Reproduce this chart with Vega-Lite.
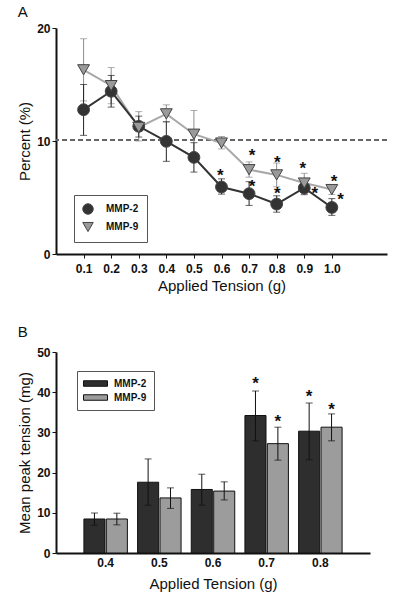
{
  "$schema": "https://vega.github.io/schema/vega-lite/v6.json",
  "background": "white",
  "padding": {"left": 17, "top": 5, "right": 5, "bottom": 5},
  "spacing": 32,
  "resolve": {"legend": {"color": "independent", "shape": "independent", "fill": "independent"}, "scale": {"color": "independent", "shape": "independent", "fill": "independent"}},
  "datasets": {
    "a": [
      {"x": 0.1, "series": "MMP-2", "value": 12.77, "low": 10.5, "high": 15.0},
      {"x": 0.1, "series": "MMP-9", "value": 16.3, "low": 13.55, "high": 19.05},
      {"x": 0.2, "series": "MMP-2", "value": 14.4, "low": 13.0, "high": 15.8},
      {"x": 0.2, "series": "MMP-9", "value": 14.9, "low": 13.3, "high": 16.5},
      {"x": 0.3, "series": "MMP-2", "value": 11.3, "low": 10.35, "high": 12.2},
      {"x": 0.3, "series": "MMP-9", "value": 11.2, "low": 10.0, "high": 12.6},
      {"x": 0.4, "series": "MMP-2", "value": 9.97, "low": 8.2, "high": 11.7},
      {"x": 0.4, "series": "MMP-9", "value": 12.4, "low": 11.7, "high": 13.2},
      {"x": 0.5, "series": "MMP-2", "value": 8.55, "low": 7.25, "high": 9.85},
      {"x": 0.5, "series": "MMP-9", "value": 10.6, "low": 8.5, "high": 12.7},
      {"x": 0.6, "series": "MMP-2", "value": 5.93, "low": 5.3, "high": 6.65},
      {"x": 0.6, "series": "MMP-9", "value": 9.82, "low": 9.3, "high": 10.4},
      {"x": 0.7, "series": "MMP-2", "value": 5.34, "low": 4.3, "high": 6.4},
      {"x": 0.7, "series": "MMP-9", "value": 7.46, "low": 6.8, "high": 8.15},
      {"x": 0.8, "series": "MMP-2", "value": 4.42, "low": 3.7, "high": 5.15},
      {"x": 0.8, "series": "MMP-9", "value": 7.0, "low": 5.95, "high": 8.05},
      {"x": 0.9, "series": "MMP-2", "value": 5.84, "low": 5.25, "high": 6.4},
      {"x": 0.9, "series": "MMP-9", "value": 6.28, "low": 5.42, "high": 7.14},
      {"x": 1.0, "series": "MMP-2", "value": 4.12, "low": 3.42, "high": 4.9},
      {"x": 1.0, "series": "MMP-9", "value": 5.7, "low": 5.27, "high": 6.13}
    ],
    "astars": [
      {"x": 0.596, "y": 7.3},
      {"x": 0.711, "y": 9.0},
      {"x": 0.711, "y": 6.3},
      {"x": 0.802, "y": 8.4},
      {"x": 0.802, "y": 5.7},
      {"x": 0.895, "y": 7.85},
      {"x": 0.938, "y": 5.7},
      {"x": 1.008, "y": 6.7},
      {"x": 1.032, "y": 5.1}
    ],
    "b": [
      {"x": "0.4", "series": "MMP-2", "value": 8.46, "low": 6.9, "high": 9.95},
      {"x": "0.4", "series": "MMP-9", "value": 8.46, "low": 7.0, "high": 9.9},
      {"x": "0.5", "series": "MMP-2", "value": 17.6, "low": 11.9, "high": 23.4},
      {"x": "0.5", "series": "MMP-9", "value": 13.7, "low": 11.1, "high": 16.2},
      {"x": "0.6", "series": "MMP-2", "value": 15.8, "low": 11.9, "high": 19.6},
      {"x": "0.6", "series": "MMP-9", "value": 15.4, "low": 13.2, "high": 17.7},
      {"x": "0.7", "series": "MMP-2", "value": 34.2, "low": 27.9, "high": 40.3},
      {"x": "0.7", "series": "MMP-9", "value": 27.2, "low": 23.1, "high": 31.3},
      {"x": "0.8", "series": "MMP-2", "value": 30.3, "low": 23.2, "high": 37.3},
      {"x": "0.8", "series": "MMP-9", "value": 31.3, "low": 27.9, "high": 34.6}
    ],
    "bstars": [
      {"x": "0.7", "series": "MMP-2", "y": 43.1},
      {"x": "0.7", "series": "MMP-9", "y": 33.6},
      {"x": "0.8", "series": "MMP-2", "y": 39.8},
      {"x": "0.8", "series": "MMP-9", "y": 36.6}
    ]
  },
  "config": {
    "font": "Liberation Sans",
    "view": {"stroke": null},
    "axis": {
      "domainColor": "#111",
      "domainWidth": 2,
      "tickColor": "#111",
      "tickSize": 4,
      "grid": false,
      "labelFont": "Liberation Sans",
      "labelFontSize": 12,
      "labelFontWeight": "bold",
      "labelColor": "#111",
      "labelOverlap": false,
      "titleFont": "Liberation Sans",
      "titleFontSize": 15,
      "titleFontWeight": "normal",
      "titleColor": "#111"
    },
    "axisX": {"labelOverlap": false},
    "title": {"font": "Liberation Sans", "fontSize": 15, "fontWeight": "normal", "anchor": "start", "frame": "bounds", "color": "#111"},
    "legend": {
      "strokeColor": "#555",
      "labelFont": "Liberation Sans",
      "labelFontSize": 10,
      "labelFontWeight": "bold",
      "labelColor": "#111"
    }
  },
  "vconcat": [
    {
      "title": {"text": "A", "offset": 2},
      "width": 331,
      "height": 226,
      "data": {"name": "a"},
      "encoding": {
        "x": {
          "field": "x", "type": "quantitative",
          "scale": {"domain": [0, 1.2], "nice": false, "zero": true},
          "axis": {"values": [0.1, 0.2, 0.3, 0.4, 0.5, 0.6, 0.7, 0.8, 0.9, 1.0], "format": ".1f", "labelOverlap": false, "labelFlush": false, "labelBound": false, "title": "Applied Tension (g)", "labelPadding": 5, "titlePadding": 4}
        }
      },
      "layer": [
        {
          "mark": {"type": "rule", "strokeDash": [5, 3], "color": "#666", "strokeWidth": 1.3},
          "encoding": {
            "x": null,
            "y": {"datum": 10.05, "type": "quantitative", "scale": {"domain": [0, 20], "nice": false}, "axis": {"values": [0, 10, 20], "title": "Percent (%)", "titlePadding": 4}}
          }
        },
        {
          "transform": [{"filter": "datum.series === 'MMP-9'"}],
          "mark": {"type": "rule", "strokeWidth": 1, "color": "#8c8c8c"},
          "encoding": {"y": {"field": "low", "type": "quantitative"}, "y2": {"field": "high"}}
        },
        {
          "transform": [{"filter": "datum.series === 'MMP-9'"}],
          "mark": {"type": "tick", "orient": "horizontal", "size": 7, "thickness": 1, "color": "#8c8c8c"},
          "encoding": {"y": {"field": "low", "type": "quantitative"}}
        },
        {
          "transform": [{"filter": "datum.series === 'MMP-9'"}],
          "mark": {"type": "tick", "orient": "horizontal", "size": 7, "thickness": 1, "color": "#8c8c8c"},
          "encoding": {"y": {"field": "high", "type": "quantitative"}}
        },
        {
          "transform": [{"filter": "datum.series === 'MMP-2'"}],
          "mark": {"type": "rule", "strokeWidth": 1, "color": "#222"},
          "encoding": {"y": {"field": "low", "type": "quantitative"}, "y2": {"field": "high"}}
        },
        {
          "transform": [{"filter": "datum.series === 'MMP-2'"}],
          "mark": {"type": "tick", "orient": "horizontal", "size": 7, "thickness": 1, "color": "#222"},
          "encoding": {"y": {"field": "low", "type": "quantitative"}}
        },
        {
          "transform": [{"filter": "datum.series === 'MMP-2'"}],
          "mark": {"type": "tick", "orient": "horizontal", "size": 7, "thickness": 1, "color": "#222"},
          "encoding": {"y": {"field": "high", "type": "quantitative"}}
        },
        {
          "transform": [{"filter": "datum.series === 'MMP-9'"}],
          "mark": {"type": "line", "strokeWidth": 2, "color": "#a8a8a8"},
          "encoding": {"y": {"field": "value", "type": "quantitative"}}
        },
        {
          "transform": [{"filter": "datum.series === 'MMP-2'"}],
          "mark": {"type": "line", "strokeWidth": 2, "color": "#333333"},
          "encoding": {"y": {"field": "value", "type": "quantitative"}}
        },
        {
          "mark": {"type": "point", "filled": true, "opacity": 1, "stroke": "#444", "strokeWidth": 1, "size": 140},
          "encoding": {
            "y": {"field": "value", "type": "quantitative"},
            "color": {
              "field": "series", "type": "nominal",
              "scale": {"domain": ["MMP-2", "MMP-9"], "range": ["#333333", "#9a9a9a"]},
              "legend": {"orient": "none", "title": null, "legendX": 18, "legendY": 167, "padding": 8, "rowPadding": 3, "labelOffset": 12, "symbolOffset": 0, "symbolSize": 110, "symbolStrokeColor": "#444", "symbolStrokeWidth": 1}
            },
            "shape": {
              "field": "series", "type": "nominal",
              "scale": {"domain": ["MMP-2", "MMP-9"], "range": ["circle", "triangle-down"]},
              "legend": {"orient": "none", "title": null, "legendX": 18, "legendY": 167, "padding": 8, "rowPadding": 3, "labelOffset": 12, "symbolOffset": 0, "symbolSize": 110, "symbolStrokeColor": "#444", "symbolStrokeWidth": 1}
            }
          }
        },
        {
          "data": {"name": "astars"},
          "mark": {"type": "text", "text": "*", "fontSize": 17, "fontWeight": "bold", "color": "#111", "baseline": "middle", "dy": 4},
          "encoding": {
            "y": {"field": "y", "type": "quantitative"}
          }
        }
      ]
    },
    {
      "title": {"text": "B", "offset": 6},
      "width": 314,
      "height": 201,
      "layer": [
        {
          "data": {"name": "b"},
          "mark": {"type": "bar", "stroke": "#111", "strokeWidth": 1},
          "encoding": {
            "x": {
              "field": "x", "type": "nominal",
              "scale": {"paddingInner": 0.19, "paddingOuter": 0.52},
              "axis": {"labelAngle": 0, "title": "Applied Tension (g)", "labelPadding": 4, "titlePadding": 8, "ticks": false}
            },
            "xOffset": {"field": "series", "type": "nominal", "scale": {"paddingInner": 0.06}},
            "y": {
              "field": "value", "type": "quantitative",
              "scale": {"domain": [0, 50], "nice": false},
              "axis": {"values": [0, 10, 20, 30, 40, 50], "title": "Mean peak tension (mg)", "titlePadding": 4}
            },
            "fill": {
              "field": "series", "type": "nominal",
              "scale": {"domain": ["MMP-2", "MMP-9"], "range": ["#2e2e2e", "#9c9c9c"]},
              "legend": {"orient": "none", "title": null, "legendX": 21, "legendY": 19, "symbolType": "M-2.4,-0.55H2.4V0.55H-2.4Z", "symbolSize": 100, "symbolOffset": 6, "symbolStrokeColor": "#111", "symbolStrokeWidth": 1, "rowPadding": 3, "labelOffset": 13, "padding": 7}
            }
          }
        },
        {
          "data": {"name": "b"},
          "mark": {"type": "rule", "color": "#111", "strokeWidth": 1},
          "encoding": {
            "x": {"field": "x", "type": "nominal"},
            "xOffset": {"field": "series", "type": "nominal"},
            "y": {"field": "low", "type": "quantitative"},
            "y2": {"field": "high"}
          }
        },
        {
          "data": {"name": "b"},
          "mark": {"type": "tick", "orient": "horizontal", "size": 7, "thickness": 1, "color": "#111"},
          "encoding": {
            "x": {"field": "x", "type": "nominal"},
            "xOffset": {"field": "series", "type": "nominal"},
            "y": {"field": "low", "type": "quantitative"}
          }
        },
        {
          "data": {"name": "b"},
          "mark": {"type": "tick", "orient": "horizontal", "size": 7, "thickness": 1, "color": "#111"},
          "encoding": {
            "x": {"field": "x", "type": "nominal"},
            "xOffset": {"field": "series", "type": "nominal"},
            "y": {"field": "high", "type": "quantitative"}
          }
        },
        {
          "data": {"name": "bstars"},
          "mark": {"type": "text", "text": "*", "fontSize": 17, "fontWeight": "bold", "color": "#111", "baseline": "middle", "dy": 4},
          "encoding": {
            "x": {"field": "x", "type": "nominal"},
            "xOffset": {"field": "series", "type": "nominal"},
            "y": {"field": "y", "type": "quantitative"}
          }
        }
      ]
    }
  ]
}
